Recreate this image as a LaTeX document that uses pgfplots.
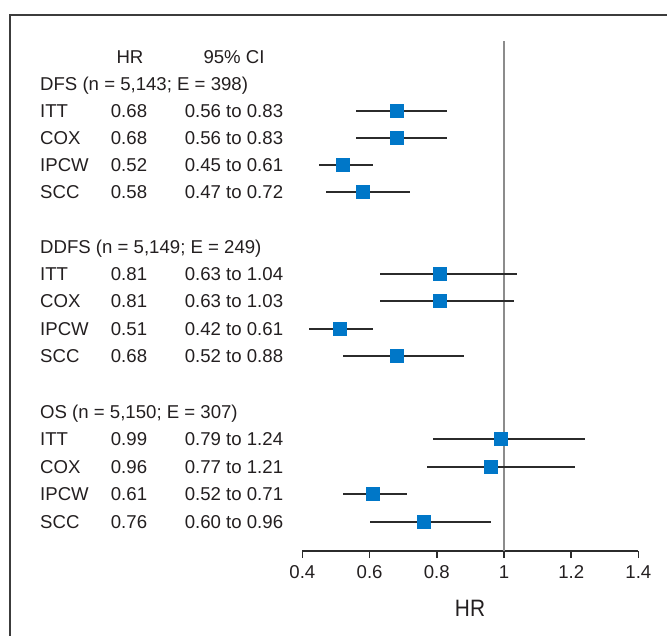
\documentclass[border=0pt]{standalone}
\usepackage{pgfplots}
\usepackage{pgfplotstable}
\pgfplotsset{compat=1.18}
\usepackage{fontspec}
\setmainfont{Liberation Sans}
\newfontfamily\narrowfont[FakeStretch=0.88]{Liberation Sans}

\definecolor{sqblue}{HTML}{0077C8}
\definecolor{cibar}{HTML}{2B2B2B}
\definecolor{refgray}{HTML}{8C8C8C}
\definecolor{framecol}{HTML}{3C3C3C}
\definecolor{txt}{HTML}{231F20}

% y: row position, measured downwards from the top of the picture (negative)
\pgfplotstableread{
y    hr   lo   hi
-111 0.68 0.56 0.83
-138 0.68 0.56 0.83
-165 0.52 0.45 0.61
-192 0.58 0.47 0.72
-274 0.81 0.63 1.04
-301 0.81 0.63 1.03
-329 0.51 0.42 0.61
-356 0.68 0.52 0.88
-439 0.99 0.79 1.24
-467 0.96 0.77 1.21
-494 0.61 0.52 0.71
-522 0.76 0.60 0.96
}\forest

\begin{document}
\begin{tikzpicture}[font=\fontsize{18.6}{20}\selectfont, text=txt]
  \useasboundingbox (0pt,0pt) rectangle (667pt,-635pt);
  % frame (runs off the page right and bottom)
  \draw[framecol, line width=1.4pt] (10pt,-700pt) -- (10pt,-15pt) -- (720pt,-15pt);

  % header
  \node[anchor=base, inner sep=0pt] at (130pt,-63.7pt) {HR};
  \node[anchor=base, inner sep=0pt] at (234pt,-63.7pt) {95\% CI};

  % group headers
  \foreach \y/\lab in {84/{DFS (n = 5,143; E = 398)}, 247/{DDFS (n = 5,149; E = 249)}, 412/{OS (n = 5,150; E = 307)}}
    \node[anchor=base west, inner sep=0pt] at (40pt, {-(\y+6.7)*1pt}) {\lab};

  % rows
  \foreach \y/\lab/\hr/\ci in {
      111/ITT/0.68/0.56 to 0.83, 138/COX/0.68/0.56 to 0.83, 165/IPCW/0.52/0.45 to 0.61, 192/SCC/0.58/0.47 to 0.72,
      274/ITT/0.81/0.63 to 1.04, 301/COX/0.81/0.63 to 1.03, 329/IPCW/0.51/0.42 to 0.61, 356/SCC/0.68/0.52 to 0.88,
      439/ITT/0.99/0.79 to 1.24, 467/COX/0.96/0.77 to 1.21, 494/IPCW/0.61/0.52 to 0.71, 522/SCC/0.76/0.60 to 0.96} {
    \node[anchor=base west, inner sep=0pt] at (40pt, {-(\y+6.7)*1pt}) {\lab};
    \node[anchor=base, inner sep=0pt] at (129pt, {-(\y+6.7)*1pt}) {\hr};
    \node[anchor=base, inner sep=0pt] at (234pt, {-(\y+6.7)*1pt}) {\ci};
  }

  \begin{axis}[
    at={(302.4pt,-551pt)}, anchor=south west,
    width=336pt, height=510pt, scale only axis,
    xmin=0.4, xmax=1.4, ymin=-551, ymax=-41,
    axis x line=bottom, axis y line=none,
    axis line style={-, cibar, line width=1.6pt},
    xtick={0.4,0.6,0.8,1,1.2,1.4},
    xticklabels={0.4,0.6,0.8,1,1.2,1.4},
    tick align=outside, major tick length=7pt,
    tick style={cibar, line width=1.5pt},
    ytick=\empty,
    xticklabel style={font=\fontsize{18.6}{20}\selectfont, text=txt, yshift=-4pt},
    clip=false,
  ]
    \addplot[refgray, line width=2pt] coordinates {(1,-41) (1,-551)};
    \addplot[only marks, mark=none,
      error bars/.cd, x dir=both, x explicit,
      error mark=none, error bar style={cibar, line width=2pt}]
      table[x=hr, y=y,
        x error plus expr=\thisrow{hi}-\thisrow{hr},
        x error minus expr=\thisrow{hr}-\thisrow{lo}] {\forest};
    \addplot[only marks, mark=square*, mark size=6.5pt,
      mark options={fill=sqblue, draw=sqblue}]
      table[x=hr, y=y] {\forest};
  \end{axis}

  \node[font=\narrowfont\fontsize{23.7}{25}\selectfont] at (470pt,-608pt) {HR};
\end{tikzpicture}
\end{document}
